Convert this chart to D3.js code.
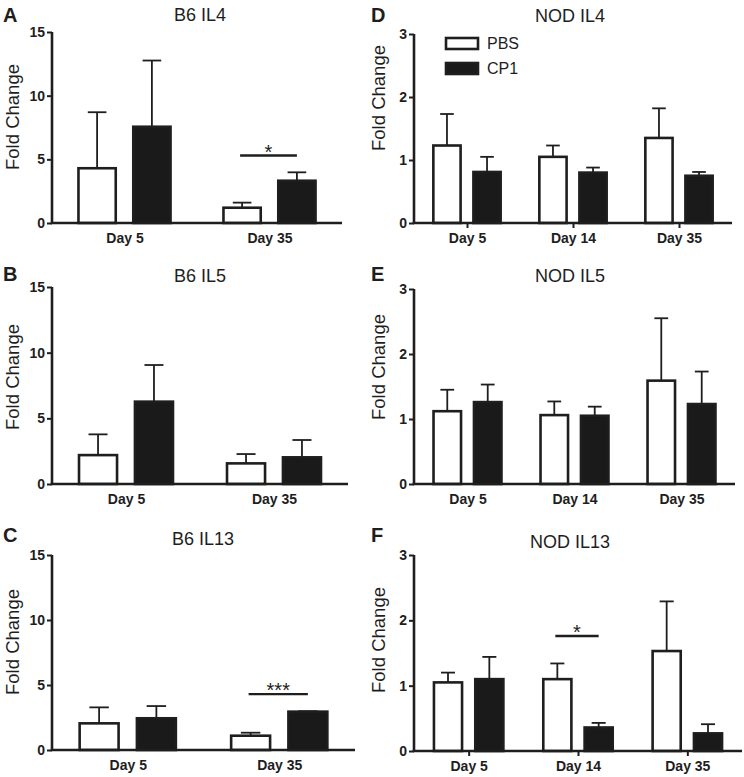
<!DOCTYPE html>
<html>
<head>
<meta charset="utf-8">
<script src="https://cdn.jsdelivr.net/npm/d3@7"></script>
<style>
  html, body { margin: 0; padding: 0; background: #fff; }
  svg { display: block; }
  text { font-family: "Liberation Sans", Arial, sans-serif; fill: #1e1e1e; }
</style>
</head>
<body>
<svg id="chart" width="744" height="777"></svg>
<script>
// ---------- DATA ----------
const series = ["PBS", "CP1"];
const daysB6 = ["Day 5", "Day 35"];
const daysNOD = ["Day 5", "Day 14", "Day 35"];
const yTicksB6 = [0, 5, 10, 15];
const yTicksNOD = [0, 1, 2, 3];
const panelLetters = ["A", "B", "C", "D", "E", "F"];
const panelTitles = ["B6 IL4", "B6 IL5", "B6 IL13", "NOD IL4", "NOD IL5", "NOD IL13"];
const yLabel = "Fold Change";

// means and upper error (SEM) per panel
const b6il4PBS = [4.3, 1.2],   b6il4PBSErr = [4.4, 0.4];
const b6il4CP1 = [7.56, 3.32], b6il4CP1Err = [5.2, 0.66];
const b6il5PBS = [2.2, 1.57],  b6il5PBSErr = [1.58, 0.71];
const b6il5CP1 = [6.27, 2.03], b6il5CP1Err = [2.79, 1.32];
const b6il13PBS = [2.05, 1.1], b6il13PBSErr = [1.23, 0.23];
const b6il13CP1 = [2.44, 2.95], b6il13CP1Err = [0.94, 0.03];
const nodil4PBS = [1.23, 1.05, 1.35], nodil4PBSErr = [0.5, 0.18, 0.47];
const nodil4CP1 = [0.81, 0.80, 0.75], nodil4CP1Err = [0.24, 0.08, 0.06];
const nodil5PBS = [1.12, 1.06, 1.59], nodil5PBSErr = [0.33, 0.21, 0.96];
const nodil5CP1 = [1.26, 1.05, 1.23], nodil5CP1Err = [0.27, 0.14, 0.5];
const nodil13PBS = [1.05, 1.1, 1.53], nodil13PBSErr = [0.15, 0.24, 0.76];
const nodil13CP1 = [1.1, 0.36, 0.27], nodil13CP1Err = [0.34, 0.07, 0.14];

// significance markers
const sigPanel = [0, 2, 5];
const sigDay = ["Day 35", "Day 35", "Day 14"];
const sigY = [5.3, 4.3, 1.76];
const sigLabel = ["*", "***", "*"];

// ---------- LAYOUT ----------
const layout = [
  { x0: 52,  x1: 342, yT: 32,  yB: 223, lx: 3,   ly: 22,  ty: 21,  tx: 200, yl: 13,  ylc: 117, xt: false },
  { x0: 52,  x1: 348, yT: 287, yB: 484, lx: 3,   ly: 281, ty: 282, tx: 200, yl: 13,  ylc: 377, xt: false },
  { x0: 52,  x1: 355, yT: 555, yB: 750, lx: 3,   ly: 542, ty: 545, tx: 203, yl: 13,  ylc: 642, xt: false },
  { x0: 414, x1: 732, yT: 34,  yB: 223, lx: 371, ly: 22,  ty: 22,  tx: 570, yl: 379, ylc: 98,  xt: true },
  { x0: 414, x1: 735, yT: 289, yB: 484, lx: 371, ly: 281, ty: 282, tx: 570, yl: 379, ylc: 367, xt: false },
  { x0: 414, x1: 742, yT: 555, yB: 751, lx: 371, ly: 542, ty: 548, tx: 570, yl: 379, ylc: 640, xt: true }
];

const panelData = [
  { days: daysB6,  ticks: yTicksB6,  max: 15, pbs: b6il4PBS,  pbsE: b6il4PBSErr,  cp1: b6il4CP1,  cp1E: b6il4CP1Err },
  { days: daysB6,  ticks: yTicksB6,  max: 15, pbs: b6il5PBS,  pbsE: b6il5PBSErr,  cp1: b6il5CP1,  cp1E: b6il5CP1Err },
  { days: daysB6,  ticks: yTicksB6,  max: 15, pbs: b6il13PBS, pbsE: b6il13PBSErr, cp1: b6il13CP1, cp1E: b6il13CP1Err },
  { days: daysNOD, ticks: yTicksNOD, max: 3,  pbs: nodil4PBS, pbsE: nodil4PBSErr, cp1: nodil4CP1, cp1E: nodil4CP1Err },
  { days: daysNOD, ticks: yTicksNOD, max: 3,  pbs: nodil5PBS, pbsE: nodil5PBSErr, cp1: nodil5CP1, cp1E: nodil5CP1Err },
  { days: daysNOD, ticks: yTicksNOD, max: 3,  pbs: nodil13PBS, pbsE: nodil13PBSErr, cp1: nodil13CP1, cp1E: nodil13CP1Err }
];

const INK = "#1e1e1e";
const fills = { PBS: "#ffffff", CP1: "#1a1a1a" };
const FONT = "'Liberation Sans', Arial, sans-serif";

const svg = d3.select("#chart");
svg.append("rect").attr("width", 744).attr("height", 777).attr("fill", "#fff");

panelData.forEach((pd, i) => {
  const L = layout[i];
  const g = svg.append("g");

  const x = d3.scalePoint().domain(pd.days).range([L.x0, L.x1]).padding(0.5);
  const step = x.step();
  const gw = step * 0.635;
  const x1 = d3.scaleBand().domain(series).range([-gw / 2, gw / 2]).paddingInner(0.32);
  const y = d3.scaleLinear().domain([0, pd.max]).range([L.yB, L.yT]);

  const rows = [];
  pd.days.forEach((d, j) => {
    rows.push({ day: d, s: "PBS", v: pd.pbs[j], e: pd.pbsE[j] });
    rows.push({ day: d, s: "CP1", v: pd.cp1[j], e: pd.cp1E[j] });
  });

  // error bars
  const eb = g.append("g").attr("stroke", INK).attr("stroke-width", 1.8).attr("fill", "none");
  rows.forEach(r => {
    const cx = x(r.day) + x1(r.s) + x1.bandwidth() / 2;
    const capW = x1.bandwidth() * 0.25;
    eb.append("line").attr("x1", cx).attr("x2", cx).attr("y1", y(r.v)).attr("y2", y(r.v + r.e));
    eb.append("line").attr("x1", cx - capW).attr("x2", cx + capW).attr("y1", y(r.v + r.e)).attr("y2", y(r.v + r.e));
  });

  // bars
  g.append("g").selectAll("rect").data(rows).join("rect")
    .attr("x", r => x(r.day) + x1(r.s))
    .attr("y", r => y(r.v))
    .attr("width", x1.bandwidth())
    .attr("height", r => y(0) - y(r.v))
    .attr("fill", r => fills[r.s])
    .attr("stroke", INK)
    .attr("stroke-width", 2.6);

  // y axis
  const yAxis = d3.axisLeft(y).tickValues(pd.ticks).tickSize(5).tickPadding(2).tickFormat(d3.format("d"));
  const ya = g.append("g").attr("transform", `translate(${L.x0},0)`).call(yAxis);
  ya.select(".domain").attr("stroke", INK).attr("stroke-width", 2.6).attr("d", `M0,${L.yT}V${L.yB}`);
  ya.selectAll(".tick line").attr("stroke", INK).attr("stroke-width", 2);
  ya.selectAll(".tick text").attr("fill", INK).style("font-size", "14px").style("font-weight", "bold")
    .style("font-family", FONT);

  // x axis
  const xAxis = d3.axisBottom(x).tickSize(L.xt ? 5 : 0).tickPadding(L.xt ? 5 : 10);
  const xa = g.append("g").attr("transform", `translate(0,${L.yB})`).call(xAxis);
  xa.select(".domain").attr("stroke", INK).attr("stroke-width", 2.6).attr("d", `M${L.x0 - 1.3},0H${L.x1}`);
  xa.selectAll(".tick line").attr("stroke", INK).attr("stroke-width", 2);
  xa.selectAll(".tick text").attr("fill", INK).style("font-size", "14px").style("font-weight", "bold")
    .style("font-family", FONT);

  // y label
  g.append("text")
    .attr("transform", `translate(${L.yl + 6},${L.ylc}) rotate(-90)`)
    .attr("text-anchor", "middle")
    .style("font-size", "18.5px")
    .text(yLabel);

  // title
  g.append("text").attr("x", L.tx).attr("y", L.ty).attr("text-anchor", "middle")
    .style("font-size", "18px").text(panelTitles[i]);

  // panel letter
  g.append("text").attr("x", L.lx).attr("y", L.ly)
    .style("font-size", "20px").style("font-weight", "bold").text(panelLetters[i]);

  // significance
  sigPanel.forEach((p, k) => {
    if (p !== i) return;
    const xa0 = x(sigDay[k]) + x1("PBS") + x1.bandwidth() / 2 - 2;
    const xa1 = x(sigDay[k]) + x1("CP1") + x1.bandwidth() / 2;
    g.append("line").attr("x1", xa0).attr("x2", xa1).attr("y1", y(sigY[k])).attr("y2", y(sigY[k]))
      .attr("stroke", INK).attr("stroke-width", 2.4);
    g.append("text").attr("x", (xa0 + xa1) / 2).attr("y", y(sigY[k]) + 3).attr("text-anchor", "middle")
      .style("font-size", "20px").text(sigLabel[k]);
  });

  // legend (panel D)
  if (i === 3) {
    const leg = g.append("g");
    series.forEach((s, k) => {
      const ly = 38 + k * 25;
      leg.append("rect").attr("x", 446).attr("y", ly).attr("width", 32).attr("height", 11)
        .attr("fill", fills[s]).attr("stroke", INK).attr("stroke-width", 2.6);
      leg.append("text").attr("x", 487).attr("y", ly + 11).style("font-size", "16px").text(s);
    });
  }
});
</script>
</body>
</html>
